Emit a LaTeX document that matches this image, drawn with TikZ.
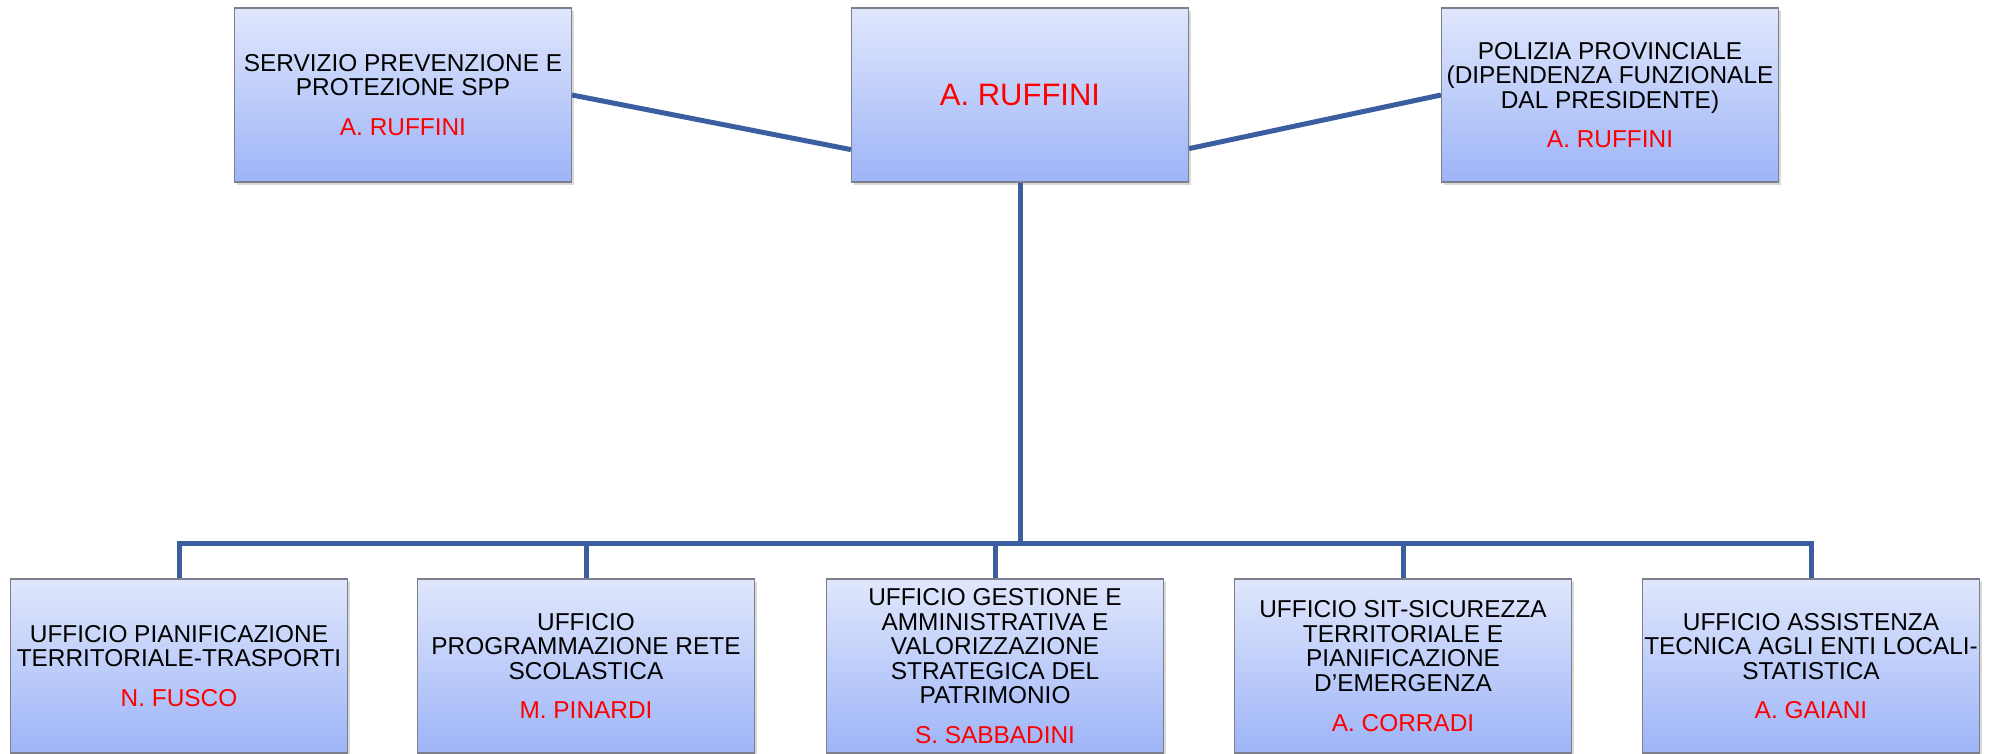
\documentclass[tikz,border=0pt]{standalone}
\usepackage{fontspec}
\setmainfont{Liberation Sans}
\usetikzlibrary{shadows}
\definecolor{linkblue}{RGB}{58,94,160}
\definecolor{boxtop}{RGB}{224,231,252}
\definecolor{boxbot}{RGB}{157,180,247}
\definecolor{boxedge}{RGB}{125,128,140}
\definecolor{namered}{RGB}{255,0,0}
\tikzset{
  unitbox/.style={rectangle, draw=boxedge, line width=1.2pt,
    top color=boxtop, bottom color=boxbot,
    minimum width=337pt, minimum height=174pt, inner sep=0pt,
    align=center, font=\fontsize{24.4}{24.6}\selectfont,
    drop shadow={shadow xshift=2pt, shadow yshift=-3pt, opacity=0.25, fill=black!60}},
  link/.style={draw=linkblue, line width=5pt},
  bar/.style={draw=linkblue, line width=5pt, line join=miter}
}
\newcommand{\nm}[1]{\\[15pt]\textcolor{namered}{#1}}
\begin{document}
\begin{tikzpicture}[x=1pt,y=-1pt]
\useasboundingbox (0,0) rectangle (2000,753);
% top row
\node[unitbox] (spp) at (403,95) {SERVIZIO PREVENZIONE E\\PROTEZIONE SPP\nm{A. RUFFINI}};
\node[unitbox, font=\fontsize{31}{36}\selectfont] (ctr) at (1020,95) {\textcolor{namered}{A. RUFFINI}};
\node[unitbox] (pol) at (1610,95) {POLIZIA PROVINCIALE\\(DIPENDENZA FUNZIONALE\\DAL PRESIDENTE)\nm{A. RUFFINI}};
% bottom row
\node[unitbox] (b1) at (179,666) {UFFICIO PIANIFICAZIONE\\TERRITORIALE-TRASPORTI\nm{N. FUSCO}};
\node[unitbox] (b2) at (586,666) {UFFICIO\\PROGRAMMAZIONE RETE\\SCOLASTICA\nm{M. PINARDI}};
\node[unitbox] (b3) at (995,666) {UFFICIO GESTIONE E\\AMMINISTRATIVA E\\VALORIZZAZIONE\\STRATEGICA DEL\\PATRIMONIO\nm{S. SABBADINI}};
\node[unitbox] (b4) at (1403,666) {UFFICIO SIT-SICUREZZA\\TERRITORIALE E\\PIANIFICAZIONE\\D’EMERGENZA\nm{A. CORRADI}};
\node[unitbox] (b5) at (1811,666) {UFFICIO ASSISTENZA\\TECNICA AGLI ENTI LOCALI-\\STATISTICA\nm{A. GAIANI}};
% connectors
\draw[link] (spp.east) -- ([yshift=33pt]ctr.south west);
\draw[link] ([yshift=34pt]ctr.south east) -- (pol.west);
\coordinate (bus) at (1020,543);
\draw[bar] (ctr.south) -- (bus);
\draw[bar] (bus) -| (b1.north);
\draw[bar] (bus) -| (b2.north);
\draw[bar] (bus) -| (b3.north);
\draw[bar] (bus) -| (b4.north);
\draw[bar] (bus) -| (b5.north);
\end{tikzpicture}
\end{document}
